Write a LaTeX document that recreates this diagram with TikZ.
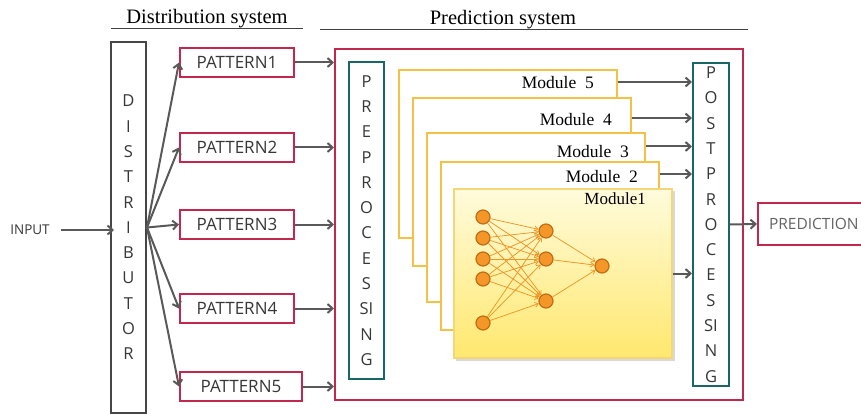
\documentclass[tikz,border=0pt]{standalone}
\usepackage{fontspec}
\setmainfont{Liberation Serif}
\newfontfamily\sansf{Open Sans}
\usetikzlibrary{arrows.meta,calc}
\definecolor{redc}{RGB}{192,40,78}
\definecolor{tealc}{RGB}{24,102,102}
\definecolor{arrgray}{RGB}{89,89,89}
\definecolor{distgray}{RGB}{70,70,70}
\definecolor{txtgray}{RGB}{55,55,55}
\definecolor{predgray}{RGB}{100,100,100}
\definecolor{modyel}{RGB}{242,193,70}
\definecolor{m1border}{RGB}{244,214,120}
\definecolor{m1top}{RGB}{255,251,220}
\definecolor{m1bot}{RGB}{255,232,110}
\definecolor{nnfill}{RGB}{245,150,40}
\definecolor{nndraw}{RGB}{190,110,20}
\definecolor{nnedgec}{RGB}{238,150,40}
\begin{document}
\begin{tikzpicture}[x=1pt,y=-1pt,
  arr/.style={draw=arrgray,line width=2pt,-{Straight Barb[length=5pt,width=9pt]}},
  vbox/.style={rectangle,line width=2pt,inner sep=0pt,align=center,fill=white,
    font=\sansf\fontsize{16.5}{25.3}\selectfont,text=txtgray},
  pat/.style={rectangle,draw=redc,line width=2pt,fill=white,inner sep=0pt,
    font=\sansf\fontsize{17}{20}\selectfont,text=txtgray,minimum height=29pt},
  modbox/.style={rectangle,draw=modyel,line width=2pt,fill=white,minimum width=218pt,minimum height=168pt,inner sep=0pt},
  modlab/.style={anchor=east,inner sep=0pt,font=\fontsize{17.5}{20}\selectfont},
  neuron/.style={circle,fill=nnfill,draw=nndraw,line width=1.2pt,minimum size=14pt,inner sep=0pt},
  nnedge/.style={draw=nnedgec,line width=0.75pt,-{Straight Barb[length=3.5pt,width=5pt]}},
  head/.style={anchor=base,inner sep=0pt,font=\fontsize{20.5}{24}\selectfont}
]
\useasboundingbox (0,0) rectangle (861,414);

% headers
\node[head] (dhead) at (207,24) {Distribution system};
\draw[line width=1pt,draw=black!75] (111,29) -- (303,29);
\node[head] (phead) at (503,25) {Prediction system};
\draw[line width=1pt,draw=black!75] (320,30) -- (748,30);

% input & distributor
\node[inner sep=0pt,font=\sansf\fontsize{13.5}{16}\selectfont,text=txtgray] (input) at (30,230) {INPUT};
\node[vbox,draw=distgray,minimum width=35pt,minimum height=371pt] (dist) at (128.5,227.5)
  {D\\I\\S\\T\\R\\I\\B\\U\\T\\O\\R};
\draw[arr] ([xshift=11pt]input.east) -- ($(input.east -| dist.west)+(4,0)$);

% patterns
\node[pat,minimum width=114pt] (p1) at (237,62.5) {PATTERN1};
\node[pat,minimum width=114pt] (p2) at (237,147.5) {PATTERN2};
\node[pat,minimum width=114pt] (p3) at (237,224.5) {PATTERN3};
\node[pat,minimum width=114pt] (p4) at (237,308.5) {PATTERN4};
\node[pat,minimum width=122pt] (p5) at (241,386.5) {PATTERN5};
\foreach \p in {1,...,5} \draw[arr] (dist.east) -- (p\p.west);

% prediction system box
\node[rectangle,draw=redc,line width=2pt,minimum width=408pt,minimum height=351pt,inner sep=0pt] (pred) at (539,224.5) {};
\foreach \p in {1,...,5} \draw[arr] (p\p.east) -- (p\p.east -| pred.west);

\node[vbox,draw=tealc,minimum width=35pt,minimum height=317pt] (pre) at (366.5,220.5)
  {P\\R\\E\\P\\R\\O\\C\\E\\S\\SI\\N\\G};
\node[vbox,draw=tealc,minimum width=36pt,minimum height=323pt] (post) at (711,224.5)
  {P\\O\\S\\T\\P\\R\\O\\C\\E\\S\\SI\\N\\G};

% modules
\node[modbox] (m5) at (507.5,154) {};
\node[modbox] (m4) at (521.5,182) {};
\node[modbox] (m3) at (536,217.5) {};
\node[modbox] (m2) at (549.5,246) {};
\fill[black!15] (456,191) rectangle (675,361);
\node[rectangle,draw=m1border,line width=1.2pt,top color=m1top,bottom color=m1bot,
  minimum width=218pt,minimum height=169pt,inner sep=0pt] (m1) at (563,273.5) {};

\node[modlab] (l5) at (594,82.5) {Module~ 5};
\node[modlab] (l4) at (612,120) {Module~ 4};
\node[modlab] (l3) at (629,152) {Module~ 3};
\node[modlab] (l2) at (638,177) {Module~ 2};
\node[modlab,font=\fontsize{17}{20}\selectfont] (l1) at (646,199) {Module1};

\coordinate (a5) at ($(m5.north east)+(0,13)$);
\coordinate (a4) at ($(m4.north east)+(0,21)$);
\coordinate (a3) at ($(m3.north east)+(0,14)$);
\coordinate (a2) at ($(m2.north east)+(0,13)$);
\draw[arr] (a5) -- (a5 -| post.west);
\draw[arr] (a4) -- (a4 -| post.west);
\draw[arr] (a3) -- (a3 -| post.west);
\draw[arr] (a2) -- (a2 -| post.west);
\draw[arr] (m1.east) -- (m1.east -| post.west);

% neural network
\node[neuron] (i1) at (483,217) {};
\node[neuron] (i2) at (483,238) {};
\node[neuron] (i3) at (483,259) {};
\node[neuron] (i4) at (483,279) {};
\node[neuron] (i5) at (483,323) {};
\node[neuron] (h1) at (546,231) {};
\node[neuron] (h2) at (546,259) {};
\node[neuron] (h3) at (546,301) {};
\node[neuron] (o) at (602,266) {};
\foreach \i in {1,...,5} \foreach \h in {1,2,3} \draw[nnedge] (i\i) -- (h\h);
\foreach \h in {1,2,3} \draw[nnedge] (h\h) -- (o);

% prediction output
\node[rectangle,draw=redc,line width=2pt,fill=white,inner xsep=11pt,inner ysep=0pt,minimum height=42pt,
  anchor=west,font=\sansf\fontsize{15.5}{18}\selectfont,text=predgray] (predout) at (757,224) {PREDICTION};
\draw[arr] (post.east) -- (predout.west);
\end{tikzpicture}
\end{document}
